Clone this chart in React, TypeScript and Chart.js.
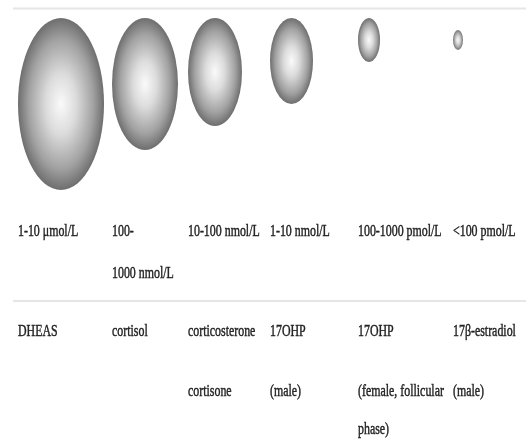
import React, { useEffect, useRef } from "react";
import { Chart, registerables } from "chart.js";

Chart.register(...registerables);

// ---- data ----
const concentrationLabels: string[][] = [
  ["1-10 μmol/L"],
  ["100-", "1000 nmol/L"],
  ["10-100 nmol/L"],
  ["1-10 nmol/L"],
  ["100-1000 pmol/L"],
  ["<100 pmol/L"],
];

const steroidLabels: string[][][] = [
  [["DHEAS"]],
  [["cortisol"]],
  [["corticosterone"], ["cortisone"]],
  [["17OHP"], ["(male)"]],
  [["17OHP"], ["(female, follicular", "phase)"]],
  [["17β-estradiol"], ["(male)"]],
];

// relative bubble size (half-width of each sphere)
const bubbleSize: number[] = [43, 33, 27, 21.5, 11, 5];

// ---- layout (pixels) ----
const W = 526;
const H = 444;
const COL_X = [18, 112, 188, 270, 358, 453];
const BUBBLE_TOP = 18;
const BUBBLE_MIN_CY = 40;
const ROW1_BASE = 236;
const ROW1_WRAP = 42;
const ROW2_BASE = 336;
const ROW2_PARA = 60;
const ROW2_WRAP = 38;
const TOP_LINE_Y = 8.5;
const SEP_LINE_Y = 301;
const LINE_X0 = 13;
const FONT = '17px "Liberation Serif", serif';
const SQUEEZE = 0.7;
const TEXT_COLOR = "#222222";

const sphereCache: Record<string, HTMLCanvasElement> = {};
function sphere(s: number): HTMLCanvasElement {
  const key = String(s);
  if (sphereCache[key]) return sphereCache[key];
  const c = document.createElement("canvas");
  c.width = Math.round(2 * s);
  c.height = Math.round(4 * s);
  const g = c.getContext("2d")!;
  g.save();
  g.scale(c.width / (2 * s), c.height / (2 * s));
  const grad = g.createRadialGradient(s, s, 0, s, s, s);
  grad.addColorStop(0, "#fafafa");
  grad.addColorStop(0.35, "#dcdcdc");
  grad.addColorStop(0.75, "#a2a2a2");
  grad.addColorStop(1, "#6e6e6e");
  g.beginPath();
  g.arc(s, s, s, 0, Math.PI * 2);
  g.fillStyle = grad;
  g.fill();
  g.restore();
  sphereCache[key] = c;
  return c;
}

const tablePlugin = {
  id: "tablePlugin",
  beforeDatasetsDraw(chart: any) {
    const { ctx, scales } = chart;
    const x = scales.x;
    const y = scales.y;
    ctx.save();
    ctx.strokeStyle = "#e6e6e6";
    ctx.lineWidth = 2;
    [TOP_LINE_Y, SEP_LINE_Y].forEach((ly) => {
      ctx.beginPath();
      ctx.moveTo(x.getPixelForValue(LINE_X0), y.getPixelForValue(ly));
      ctx.lineTo(x.getPixelForValue(W), y.getPixelForValue(ly));
      ctx.stroke();
    });
    ctx.restore();
  },
  afterDraw(chart: any) {
    const { ctx, scales } = chart;
    const x = scales.x;
    const y = scales.y;
    ctx.save();
    ctx.font = FONT;
    ctx.fillStyle = TEXT_COLOR;
    ctx.strokeStyle = TEXT_COLOR;
    ctx.lineWidth = 0.45;
    ctx.textAlign = "left";
    ctx.textBaseline = "alphabetic";
    const put = (t: string, vx: number, vy: number) => {
      ctx.save();
      ctx.translate(x.getPixelForValue(vx), y.getPixelForValue(vy));
      ctx.scale(SQUEEZE, 1);
      ctx.fillText(t, 0, 0);
      ctx.strokeText(t, 0, 0);
      ctx.restore();
    };
    concentrationLabels.forEach((lines, i) => {
      lines.forEach((t, j) => put(t, COL_X[i], ROW1_BASE + j * ROW1_WRAP));
    });
    steroidLabels.forEach((paras, i) => {
      let by = ROW2_BASE;
      paras.forEach((lines, p) => {
        if (p > 0) by += ROW2_PARA;
        lines.forEach((t, j) => {
          if (j > 0) by += ROW2_WRAP;
          put(t, COL_X[i], by);
        });
      });
    });
    ctx.restore();
  },
};

export default function App() {
  const ref = useRef<HTMLCanvasElement>(null);
  useEffect(() => {
    if (!ref.current) return;
    const data = bubbleSize.map((s, i) => ({
      x: COL_X[i] + s,
      y: Math.max(BUBBLE_TOP + 2 * s, BUBBLE_MIN_CY),
      r: s,
    }));
    const chart = new Chart(ref.current, {
      type: "bubble",
      data: {
        datasets: [
          {
            label: "concentration",
            data,
            pointStyle: (c: any) => sphere(c.raw ? c.raw.r : 5),
            backgroundColor: "#999",
            borderWidth: 0,
            clip: false,
          } as any,
        ],
      },
      options: {
        responsive: false,
        animation: false,
        devicePixelRatio: 1,
        layout: { padding: 0, autoPadding: false },
        plugins: { legend: { display: false }, tooltip: { enabled: false } },
        scales: {
          x: { type: "linear", min: 0, max: W, display: false },
          y: { type: "linear", min: 0, max: H, reverse: true, display: false },
        },
      },
      plugins: [tablePlugin],
    });
    return () => chart.destroy();
  }, []);
  return (
    <div style={{ position: "fixed", left: 0, top: 0, width: W, height: H, background: "#fff" }}>
      <canvas ref={ref} width={W} height={H} style={{ width: W, height: H, display: "block" }} />
    </div>
  );
}
